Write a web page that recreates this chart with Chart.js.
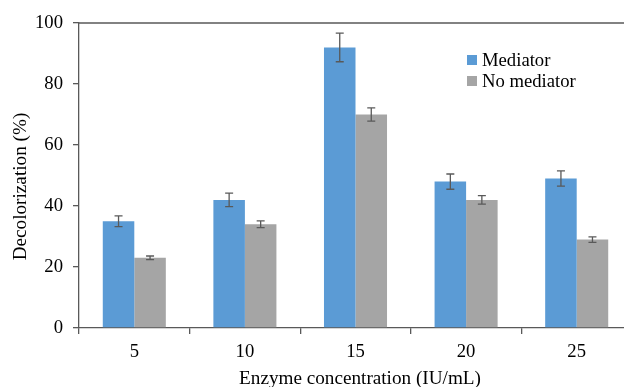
<!DOCTYPE html>
<html>
<head>
<meta charset="utf-8">
<script src="https://cdn.jsdelivr.net/npm/chart.js@4/dist/chart.umd.min.js"></script>
<style>
html,body{margin:0;padding:0;overflow:hidden;background:#fff;width:624px;height:387px;}
#wrap{position:relative;width:640px;height:387px;}
#legend{position:absolute;left:467px;top:50px;font-family:"Liberation Serif","Times New Roman",serif;font-size:18.67px;color:#000;}
#legend .row{height:20.7px;line-height:20.7px;white-space:nowrap;display:flex;align-items:center;}
#legend .sw{display:inline-block;width:10px;height:10px;margin-right:5px;}
</style>
</head>
<body>
<div id="wrap">
<canvas id="c" width="640" height="387"></canvas>
<div id="legend"></div>
</div>
<script>
const categories = ["5", "10", "15", "20", "25"];
const seriesNames = ["Mediator", "No mediator"];
const mediator = [35, 42, 92, 48, 49];
const mediatorErr = [1.75, 2.2, 4.7, 2.5, 2.5];
const noMediator = [23, 34, 70, 42, 29];
const noMediatorErr = [0.6, 1.1, 2.2, 1.4, 0.9];
const yTicks = [0, 20, 40, 60, 80, 100];
const xTitle = "Enzyme concentration (IU/mL)";
const yTitle = "Decolorization (%)";

const colors = ["#5B9BD5", "#A5A5A5"];
const axisColor = "#595959";
const fontFamily = "'Liberation Serif','Times New Roman',serif";
const fs = 18.67;
const titleFs = 19.2;

const legend = document.getElementById('legend');
seriesNames.forEach((n, i) => {
  const r = document.createElement('div'); r.className = 'row';
  const s = document.createElement('span'); s.className = 'sw'; s.style.background = colors[i];
  r.appendChild(s); r.appendChild(document.createTextNode(n));
  legend.appendChild(r);
});

const errorBars = {
  id: 'errorBars',
  afterDatasetsDraw(chart) {
    const ctx = chart.ctx;
    const y = chart.scales.y;
    ctx.save();
    ctx.strokeStyle = axisColor;
    ctx.lineWidth = 1.3;
    chart.data.datasets.forEach((ds, di) => {
      const meta = chart.getDatasetMeta(di);
      meta.data.forEach((bar, i) => {
        const v = ds.data[i], e = ds.errors[i];
        const x = bar.x;
        const yt = y.getPixelForValue(v + e), yb = y.getPixelForValue(v - e);
        ctx.beginPath();
        ctx.moveTo(x, yt); ctx.lineTo(x, yb);
        ctx.moveTo(x - 4, yt); ctx.lineTo(x + 4, yt);
        ctx.moveTo(x - 4, yb); ctx.lineTo(x + 4, yb);
        ctx.stroke();
      });
    });
    const a = chart.chartArea;
    ctx.beginPath();
    ctx.moveTo(a.left, a.top); ctx.lineTo(a.right, a.top);
    ctx.stroke();
    // axis titles
    ctx.fillStyle = '#000';
    ctx.font = titleFs + "px " + fontFamily;
    ctx.textAlign = 'center';
    ctx.textBaseline = 'alphabetic';
    ctx.fillText(xTitle, (a.left + a.right) / 2 + 4.5, chart.height - 3);
    ctx.save();
    ctx.translate(25.7, (a.top + a.bottom) / 2 + 11);
    ctx.rotate(-Math.PI / 2);
    ctx.fillText(yTitle, 0, 0);
    ctx.restore();
    ctx.restore();
  }
};

new Chart(document.getElementById('c'), {
  type: 'bar',
  data: {
    labels: categories,
    datasets: [
      { label: seriesNames[0], data: mediator, errors: mediatorErr, backgroundColor: colors[0], borderWidth: 0 },
      { label: seriesNames[1], data: noMediator, errors: noMediatorErr, backgroundColor: colors[1], borderWidth: 0 }
    ]
  },
  options: {
    responsive: false,
    animation: false,
    devicePixelRatio: 1,
    datasets: { bar: { categoryPercentage: 0.57, barPercentage: 1.0 } },
    layout: { padding: { left: 0, right: 8, top: 23, bottom: 0 } },
    plugins: { legend: { display: false }, tooltip: { enabled: false } },
    scales: {
      x: {
        grid: { display: true, drawOnChartArea: false, drawTicks: true, tickLength: 6, color: axisColor, lineWidth: 1.3, offset: true },
        border: { display: true, color: axisColor, width: 1.3 },
        ticks: { color: '#000', font: { family: fontFamily, size: fs }, padding: 7, maxRotation: 0 },
        title: { display: false },
        afterFit(s) { s.height = 59; }
      },
      y: {
        min: 0, max: 100,
        afterBuildTicks(s) { s.ticks = yTicks.map(v => ({ value: v })); },
        grid: { display: true, drawOnChartArea: false, drawTicks: true, tickLength: 6, color: axisColor, lineWidth: 1.3 },
        border: { display: true, color: axisColor, width: 1.3 },
        ticks: { color: '#000', font: { family: fontFamily, size: fs }, padding: 10 },
        title: { display: false },
        afterFit(s) { s.width = 79; }
      }
    }
  },
  plugins: [errorBars]
});
</script>
</body>
</html>
